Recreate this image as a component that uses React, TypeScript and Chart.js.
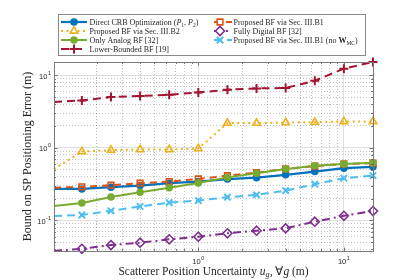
import React, { useEffect, useRef } from 'react';
import { Chart, registerables } from 'chart.js';
import { drawPoint } from 'chart.js/helpers';

Chart.register(...registerables);

// ---------- data ----------
const uncertainty = [0.102, 0.1585, 0.2512, 0.3981, 0.631, 1.0, 1.585, 2.512, 3.981, 6.31, 10.0, 15.85];
const directCRB = [0.272, 0.272, 0.287, 0.302, 0.326, 0.343, 0.371, 0.389, 0.425, 0.471, 0.525, 0.547];
const proposedB1 = [0.283, 0.29, 0.306, 0.326, 0.343, 0.373, 0.414, 0.456, 0.513, 0.56, 0.601, 0.615];
const proposedB2 = [0.508, 0.889, 0.929, 0.947, 0.947, 0.978, 2.19, 2.19, 2.23, 2.26, 2.31, 2.31];
const fullyDigital = [0.038, 0.0408, 0.0459, 0.0494, 0.0551, 0.0598, 0.0666, 0.0723, 0.078, 0.0962, 0.116, 0.135];
const onlyAnalog = [0.158, 0.174, 0.211, 0.245, 0.283, 0.329, 0.392, 0.448, 0.513, 0.565, 0.601, 0.621];
const proposedB1noW = [0.115, 0.119, 0.136, 0.156, 0.176, 0.188, 0.209, 0.225, 0.258, 0.316, 0.382, 0.415];
const lowerBounded = [4.27, 4.49, 5.0, 5.17, 5.38, 5.79, 6.31, 6.58, 6.66, 8.4, 12.3, 15.2];

const xTickValues = [1, 10];
const xTickExponents = ['0', '1'];
const yTickValues = [0.1, 1, 10];
const yTickExponents = ['-1', '0', '1'];

const xTitle = 'Scatterer Position Uncertainty';
const yTitle = 'Bound on SP Positioning Error (m)';

type Seg = { t: string; i?: boolean; b?: boolean; sub?: boolean };

// ---------- styles ----------
const SERIF = '"Liberation Serif", "Times New Roman", serif';
const SANS = '"Liberation Sans", Arial, sans-serif';

const series = [
  { key: 'crb', data: directCRB, color: '#0072BD', dash: [] as number[], style: 'circle', r: 3, fill: true, bw: 1.5, lw: 2.2,
    label: [{ t: 'Direct CRB Optimization (' }, { t: 'P', i: true }, { t: '1', sub: true }, { t: ', ' }, { t: 'P', i: true }, { t: '2', sub: true }, { t: ')' }] as Seg[] },
  { key: 'b1', data: proposedB1, color: '#D95319', dash: [7, 5], style: 'rect', r: 4, fill: false, bw: 1.6, lw: 2,
    label: [{ t: 'Proposed BF via Sec. III.B1' }] as Seg[] },
  { key: 'b2', data: proposedB2, color: '#EDB120', dash: [2, 3.5], style: 'triangle', r: 4.3, fill: false, bw: 1.6, lw: 2,
    label: [{ t: 'Proposed BF via Sec. III.B2' }] as Seg[] },
  { key: 'fd', data: fullyDigital, color: '#7E2F8E', dash: [8, 4, 2, 4], style: 'rectRot', r: 4.5, fill: false, bw: 1.6, lw: 2,
    label: [{ t: 'Fully Digital BF [32]' }] as Seg[] },
  { key: 'oa', data: onlyAnalog, color: '#77AC30', dash: [] as number[], style: 'circle', r: 3, fill: true, bw: 1.5, lw: 2,
    label: [{ t: 'Only Analog BF [32]' }] as Seg[] },
  { key: 'nw', data: proposedB1noW, color: '#4DBEEE', dash: [8, 5], style: 'crossRot', r: 4.5, fill: false, bw: 2, lw: 2,
    label: [{ t: 'Proposed BF via Sec. III.B1 (no ' }, { t: 'W', b: true }, { t: 'MC', sub: true }, { t: ')' }] as Seg[] },
  { key: 'lb', data: lowerBounded, color: '#A2142F', dash: [8, 5], style: 'cross', r: 4.5, fill: false, bw: 2, lw: 2,
    label: [{ t: 'Lower-Bounded BF [19]' }] as Seg[] },
];

// legend layout: key -> [col, row]
const legendPos: Record<string, [number, number]> = {
  crb: [0, 0], b2: [0, 1], oa: [0, 2], lb: [0, 3],
  b1: [1, 0], fd: [1, 1], nw: [1, 2],
};

function logTicks(min: number, max: number) {
  const out: { value: number }[] = [];
  const e0 = Math.floor(Math.log10(min));
  const e1 = Math.ceil(Math.log10(max));
  for (let e = e0; e <= e1; e++) {
    for (let m = 1; m <= 9; m++) {
      const v = parseFloat((m * Math.pow(10, e)).toPrecision(6));
      if (v >= min - 1e-12 && v <= max + 1e-12) out.push({ value: v });
    }
  }
  return out;
}
const isDecade = (v: number) => Math.abs(Math.log10(v) - Math.round(Math.log10(v))) < 1e-6;

function segFont(s: Seg, size: number) {
  const sz = s.sub ? size * 0.7 : size;
  return `${s.i ? 'italic ' : ''}${s.b ? 'bold ' : ''}${sz}px ${SERIF}`;
}
function richWidth(ctx: CanvasRenderingContext2D, segs: Seg[], size: number) {
  let w = 0;
  for (const s of segs) { ctx.font = segFont(s, size); w += ctx.measureText(s.t).width; }
  return w;
}
function drawRich(ctx: CanvasRenderingContext2D, segs: Seg[], x: number, y: number, size: number) {
  ctx.textBaseline = 'alphabetic';
  ctx.textAlign = 'left';
  let cx = x;
  for (const s of segs) {
    ctx.font = segFont(s, size);
    ctx.fillText(s.t, cx, y + (s.sub ? size * 0.22 : 0));
    cx += ctx.measureText(s.t).width;
  }
}
function drawPow(ctx: CanvasRenderingContext2D, exp: string, x: number, y: number, align: 'right' | 'center') {
  ctx.font = `7.5px ${SANS}`;
  const wb = ctx.measureText('10').width;
  ctx.font = `5.5px ${SANS}`;
  const we = ctx.measureText(exp).width;
  const total = wb + we + 0.5;
  const x0 = align === 'right' ? x - total : x - total / 2;
  ctx.fillStyle = '#262626';
  ctx.textAlign = 'left';
  ctx.textBaseline = 'middle';
  ctx.font = `7.5px ${SANS}`;
  ctx.fillText('10', x0, y);
  ctx.font = `5.5px ${SANS}`;
  ctx.fillText(exp, x0 + wb + 0.5, y - 3.5);
}

const decorPlugin = {
  id: 'decor',
  afterDatasetsDraw(chart: any) {
    const ctx: CanvasRenderingContext2D = chart.ctx;
    const { left, right, top, bottom } = chart.chartArea;
    const xs = chart.scales.x;
    const ys = chart.scales.y;
    ctx.save();
    // ticks (inward, mirrored)
    ctx.strokeStyle = '#555';
    ctx.lineWidth = 0.8;
    ctx.setLineDash([]);
    ctx.beginPath();
    for (const t of xs.ticks) {
      const px = Math.round(xs.getPixelForValue(t.value)) + 0.5;
      const len = isDecade(t.value) ? 3.5 : 2;
      ctx.moveTo(px, bottom); ctx.lineTo(px, bottom - len);
      ctx.moveTo(px, top); ctx.lineTo(px, top + len);
    }
    for (const t of ys.ticks) {
      const py = Math.round(ys.getPixelForValue(t.value)) + 0.5;
      const len = isDecade(t.value) ? 3.5 : 2;
      ctx.moveTo(left, py); ctx.lineTo(left + len, py);
      ctx.moveTo(right, py); ctx.lineTo(right - len, py);
    }
    ctx.stroke();
    // box
    ctx.strokeStyle = '#7a7a7a';
    ctx.lineWidth = 1;
    ctx.strokeRect(Math.round(left) + 0.5, Math.round(top) + 0.5, Math.round(right - left) - 0, Math.round(bottom - top) - 0);
    ctx.restore();
  },
  afterDraw(chart: any) {
    const ctx: CanvasRenderingContext2D = chart.ctx;
    const { left, right, top, bottom } = chart.chartArea;
    const xs = chart.scales.x;
    const ys = chart.scales.y;
    ctx.save();
    // tick labels
    xTickValues.forEach((v, i) => drawPow(ctx, xTickExponents[i], xs.getPixelForValue(v), bottom + 10.5, 'center'));
    yTickValues.forEach((v, i) => drawPow(ctx, yTickExponents[i], left - 3, ys.getPixelForValue(v) + 1.5, 'right'));

    // x title
    const tSize = 11.5;
    const xSegs: Seg[] = [
      { t: xTitle + ' ' }, { t: 'u', i: true }, { t: 'g', i: true, sub: true }, { t: ', \u2200' }, { t: 'g', i: true }, { t: ' (m)' },
    ];
    ctx.fillStyle = '#262626';
    const xw = richWidth(ctx, xSegs, tSize);
    drawRich(ctx, xSegs, (left + right) / 2 - xw / 2, 274.5, tSize);

    // y title
    ctx.save();
    ctx.translate(28, (top + bottom) / 2);
    ctx.rotate(-Math.PI / 2);
    ctx.font = `${12}px ${SERIF}`;
    ctx.textAlign = 'center';
    ctx.textBaseline = 'middle';
    ctx.fillText(yTitle, 0, 0);
    ctx.restore();

    // legend
    const lx0 = 58.5, ly0 = 14.5, lx1 = 365.5, ly1 = 55.5;
    ctx.fillStyle = '#ffffff';
    ctx.fillRect(lx0, ly0, lx1 - lx0, ly1 - ly0);
    ctx.strokeStyle = '#8a8a8a';
    ctx.lineWidth = 1;
    ctx.strokeRect(lx0, ly0, lx1 - lx0, ly1 - ly0);
    const rowY = [22, 31, 40, 49];
    const cols = [
      { l0: 61, l1: 87, m: 74, tx: 89.5 },
      { l0: 214, l1: 232, m: 220, tx: 233.5 },
    ];
    for (const s of series) {
      const [c, r] = legendPos[s.key];
      const col = cols[c];
      const y = rowY[r];
      ctx.save();
      ctx.strokeStyle = s.color;
      ctx.lineWidth = s.lw;
      ctx.setLineDash(s.dash);
      ctx.beginPath();
      ctx.moveTo(col.l0, y);
      ctx.lineTo(col.l1, y);
      ctx.stroke();
      ctx.setLineDash([]);
      ctx.fillStyle = s.fill ? s.color : '#ffffff';
      ctx.strokeStyle = s.color;
      ctx.lineWidth = s.bw;
      drawPoint(ctx, { pointStyle: s.style, rotation: 0, radius: s.r, borderWidth: s.bw } as any, col.m, y);
      ctx.restore();
      ctx.fillStyle = '#262626';
      drawRich(ctx, s.label, col.tx, y + 2.8, 8);
    }
    ctx.restore();
  },
};

export default function App() {
  const ref = useRef<HTMLCanvasElement>(null);
  useEffect(() => {
    const canvas = ref.current!;
    const datasets = series.map((s, i) => ({
      label: s.key,
      data: s.data.map((v, k) => ({ x: uncertainty[k], y: v })),
      borderColor: s.color,
      borderWidth: s.lw,
      borderDash: s.dash,
      pointStyle: s.style,
      pointRadius: (c: any) => (c.dataIndex === 0 ? 0 : s.r),
      pointBorderWidth: s.bw,
      pointBorderColor: s.color,
      pointBackgroundColor: s.fill ? s.color : 'rgba(255,255,255,0)',
      fill: false,
      tension: 0,
      clip: false as any,
      order: series.length - i,
    }));
    const allY = series.flatMap((s) => s.data);
    const yMin = Math.min(...allY);
    const yMax = Math.max(...allY);
    const gridColor = (c: any) => {
      const v = c.tick ? c.tick.value : 1;
      return isDecade(v) ? 'rgba(38,38,38,0.14)' : 'rgba(38,38,38,0.28)';
    };
    const gridDash = (c: any) => {
      const v = c.tick ? c.tick.value : 1;
      return isDecade(v) ? [] : [1, 2];
    };
    const chart = new Chart(canvas, {
      type: 'line',
      data: { datasets: datasets as any },
      plugins: [decorPlugin as any],
      options: {
        animation: false,
        responsive: false,
        devicePixelRatio: 1,
        events: [],
        layout: { padding: { left: 0, right: 39, top: 62, bottom: 0 } },
        plugins: { legend: { display: false }, tooltip: { enabled: false }, title: { display: false } },
        scales: {
          x: {
            type: 'logarithmic',
            min: uncertainty[0],
            max: uncertainty[uncertainty.length - 1],
            afterBuildTicks: (sc: any) => { sc.ticks = logTicks(sc.min, sc.max); },
            afterFit: (sc: any) => { sc.height = 29; },
            ticks: { display: false, autoSkip: false },
            grid: { color: gridColor, lineWidth: 1, drawTicks: false },
            border: { display: false, dash: gridDash },
          },
          y: {
            type: 'logarithmic',
            min: yMin,
            max: yMax,
            afterBuildTicks: (sc: any) => { sc.ticks = logTicks(sc.min, sc.max); },
            afterFit: (sc: any) => { sc.width = 54; },
            ticks: { display: false, autoSkip: false },
            grid: { color: gridColor, lineWidth: 1, drawTicks: false },
            border: { display: false, dash: gridDash },
          },
        },
      } as any,
    });
    return () => chart.destroy();
  }, []);
  return (
    <div style={{ position: 'absolute', left: 0, top: 0, width: 412, height: 280, background: '#ffffff' }}>
      <canvas ref={ref} width={412} height={280} style={{ display: 'block', width: 412, height: 280 }} />
    </div>
  );
}
